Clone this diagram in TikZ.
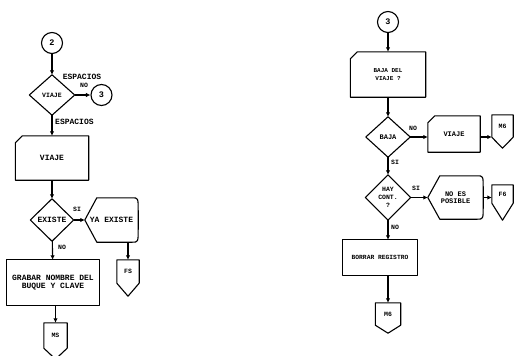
\documentclass[tikz,border=0pt]{standalone}
\usepackage{fontspec}
\setmonofont{Liberation Mono}
\usetikzlibrary{arrows.meta,calc}
\newcommand\tsz[2]{\fontsize{#1}{#2}\selectfont}
\newcommand\drawdia[1]{\draw[ln] (#1.north)--(#1.east)--(#1.south)--(#1.west)--cycle;}
\newcommand\drawcard[1]{\draw[ln] ($(#1.north west)+(0,7)$) -- ($(#1.north west)+(7,0)$) -- (#1.north east) -- (#1.south east) -- (#1.south west) -- cycle;}
\newcommand\drawdisp[1]{\draw[ln] (#1.west) -- ($(#1.north west)+(12,0)$) -- ($(#1.north east)+(-6,0)$) .. controls (#1.north east) .. ($(#1.east)+(0,-9)$) -- ($(#1.east)+(0,9)$) .. controls (#1.south east) .. ($(#1.south east)+(-6,0)$) -- ($(#1.south west)+(12,0)$) -- cycle;}
\newcommand\drawoff[2]{\draw[ln] (#1.north west) -- (#1.north east) -- (#1.south east) -- ($(#1.south)+(0,#2)$) -- (#1.south west) -- cycle;}
\tikzset{
  ln/.style={line width=1.1pt, line join=round},
  arr/.style={ln, -{Latex[length=4.5pt,width=4.5pt]}},
  box/.style={rectangle, inner sep=0pt, align=center},
  sz/.style 2 args={font=\ttfamily\bfseries\tsz{#1}{#2}},
  circ/.style={circle, draw, ln, minimum size=21pt, inner sep=0pt, sz={8.5}{8.5}},
  lbl/.style={inner sep=0pt, sz={6.5}{6.5}},
}
\begin{document}
\begin{tikzpicture}[x=1pt,y=-1pt]
\useasboundingbox[fill=white] (0,0) rectangle (514,356);
% ---------- left ----------
\node[circ] (c2) at (52,43) {2};
\node[box, minimum width=45, minimum height=40, sz={6.5}{6.5}] (d1) at (52,95) {VIAJE};
\drawdia{d1}
\node[circ] (c3a) at (101.5,95) {3};
\node[box, minimum width=73, minimum height=44, sz={8}{8}] (card1) at (52,158) {VIAJE};
\drawcard{card1}
\node[box, minimum width=43, minimum height=42, sz={8}{8}] (d2) at (52,220) {EXISTE};
\drawdia{d2}
\node[box, minimum width=53, minimum height=44, sz={8}{8}] (disp1) at (111.5,220) {YA EXISTE};
\drawdisp{disp1}
\node[box, minimum width=22, minimum height=23, sz={6.5}{6.5}] (fs1) at (128,271.5) {FS};
\drawoff{fs1}{13}
\node[box, minimum width=93, minimum height=45, sz={8}{8.5}] (grab) at (53,282.5) {GRABAR NOMBRE DEL\\BUQUE Y CLAVE};
\draw[ln] (grab.north west) rectangle (grab.south east);
\node[box, minimum width=23, minimum height=25, sz={6.5}{6.5}] (ms1) at (55.5,335.5) {MS};
\drawoff{ms1}{11}
\node[lbl, sz={8}{8}] (l1) at (82,77) {ESPACIOS};
\node[lbl] (l2) at (84,85) {NO};
\node[lbl, anchor=west, sz={8}{8}] (l3) at (55,122) {ESPACIOS};
\node[lbl] (l4) at (77,209) {SI};
\node[lbl] (l5) at (62,247) {NO};
\draw[arr] (c2) -- (d1);
\draw[arr] (d1.east) -- (c3a);
\draw[arr] (d1) -- (card1);
\draw[arr] (card1) -- (d2);
\draw[arr] (d2.east) -- (disp1.west);
\draw[arr] (fs1.north |- disp1.south) -- (fs1.north);
\draw[arr] (d2) -- (grab);
\draw[arr] (ms1.north |- grab.south) -- (ms1.north);
% ---------- right ----------
\node[circ] (c3b) at (388,22) {3};
\node[box, minimum width=75, minimum height=45, sz={6}{7.5}] (card2) at (388,74.5) {BAJA DEL\\VIAJE ?};
\drawcard{card2}
\node[box, minimum width=44, minimum height=40, sz={7}{7}] (d3) at (388,137) {BAJA};
\drawdia{d3}
\node[box, minimum width=52, minimum height=36, sz={7}{7}] (card3) at (454,134) {VIAJE};
\drawcard{card3}
\node[box, minimum width=21, minimum height=22, sz={6.5}{6.5}] (m6a) at (502.5,126) {M6};
\drawoff{m6a}{11}
\node[box, minimum width=45, minimum height=45, sz={6.5}{8}] (d4) at (388,197.5) {HAY\\CONT.\\?};
\drawdia{d4}
\node[box, minimum width=55, minimum height=43, sz={7}{7}] (disp2) at (455.5,197.5) {NO ES\\POSIBLE};
\drawdisp{disp2}
\node[box, minimum width=21, minimum height=18, sz={6.5}{6.5}] (f6) at (502.5,194) {F6};
\drawoff{f6}{17}
\node[box, minimum width=74, minimum height=35, sz={6.3}{6.3}] (borrar) at (380,257.5) {BORRAR REGISTRO};
\draw[ln] (borrar.north west) rectangle (borrar.south east);
\node[box, minimum width=25, minimum height=22, sz={6.5}{6.5}] (m6b) at (388,314) {M6};
\drawoff{m6b}{8}
\node[lbl] (l6) at (413,128) {NO};
\node[lbl, anchor=west] (l7) at (391,162) {SI};
\node[lbl] (l8) at (416,188) {SI};
\node[lbl, anchor=west] (l9) at (391,227) {NO};
\draw[arr] (c3b) -- (card2);
\draw[arr] (card2) -- (d3);
\draw[arr] (d3.east) -- (d3.east -| card3.west);
\draw[arr] (d3.east -| card3.east) -- (d3.east -| m6a.west);
\draw[arr] (d3) -- (d4);
\draw[arr] (d4.east) -- (disp2.west);
\draw[arr] (disp2.east) -- (disp2.east -| f6.west);
\draw[arr] (d4.south) -- (d4.south |- borrar.north);
\draw[arr] (m6b.north |- borrar.south) -- (m6b.north);
\end{tikzpicture}
\end{document}
